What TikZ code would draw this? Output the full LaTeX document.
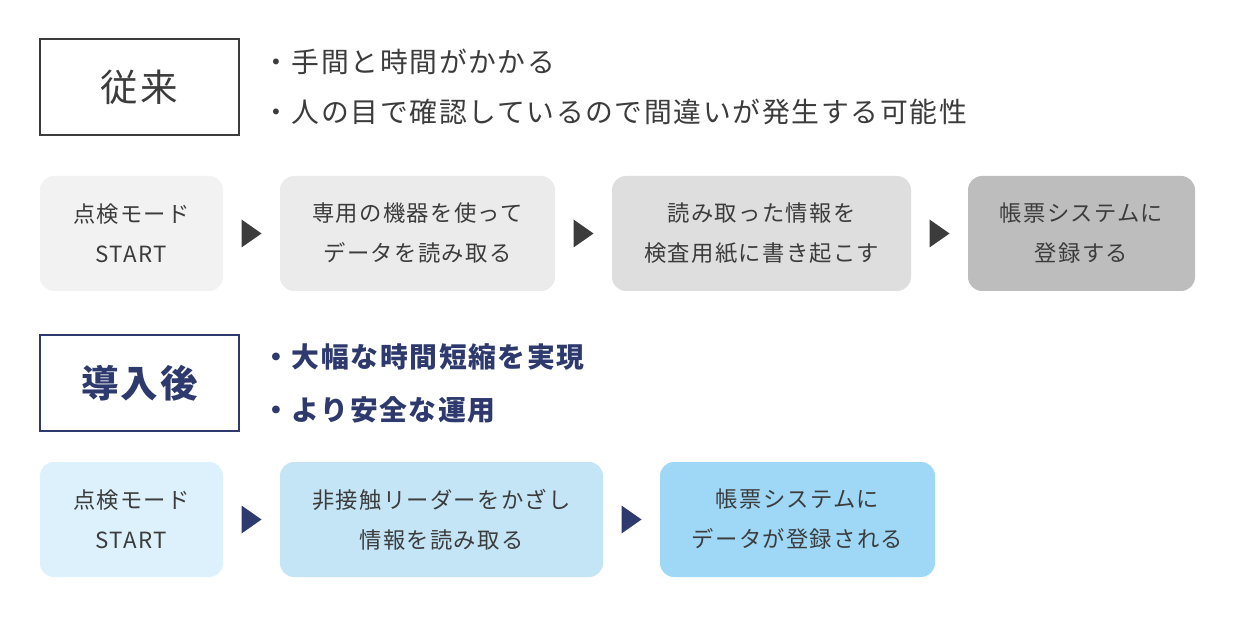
\documentclass[tikz,border=0pt]{standalone}
\usepackage{fontspec}
\usetikzlibrary{calc,positioning}
\newfontfamily\jpfont{Noto Sans CJK JP}[LetterSpace=6]
\definecolor{ink}{HTML}{3C3C3C}
\definecolor{navy}{HTML}{2E3A6E}
\definecolor{greyA}{HTML}{F2F2F2}
\definecolor{greyB}{HTML}{EBEBEB}
\definecolor{greyC}{HTML}{DEDEDE}
\definecolor{greyD}{HTML}{BDBDBD}
\definecolor{blueA}{HTML}{DCF1FC}
\definecolor{blueB}{HTML}{C4E5F6}
\definecolor{blueC}{HTML}{9ED8F6}
\newcommand{\CardFont}{\jpfont\fontsize{22.3}{40}\selectfont}
\newcommand{\NoteFont}{\jpfont\fontsize{27.8}{32}\selectfont}
\newcommand{\HeadFont}{\jpfont\fontsize{37.5}{40}\selectfont}
\tikzset{
  era header/.style={
    draw=#1, line width=2pt, text=#1, fill=white,
    minimum width=199, minimum height=96, inner sep=0pt, font=\HeadFont
  },
  flow card/.style={
    fill=#1, rounded corners=14pt, text=ink,
    minimum height=115, inner sep=0pt, align=center, font=\CardFont
  },
  note line/.style={
    anchor=west, inner sep=0pt, font=\NoteFont, text=#1
  },
}

\begin{document}
\begin{tikzpicture}[x=1pt,y=-1pt]
  \path[use as bounding box,fill=white] (0,0) rectangle (1240,620);

  % ===================== Before =====================
  \node[era header=ink] (h1) at (139.5,87) {従来};
  \node[note line=ink] (n1) at (262,62) {・手間と時間がかかる};
  \node[note line=ink] (n2) at (262,112) {・人の目で確認しているので間違いが発生する可能性};

  \def\Y{233.5}
  \node[flow card=greyA, minimum width=183] (c1) at (131.5,\Y) {点検モード\\START};
  \node[flow card=greyB, minimum width=275] (c2) at (417.5,\Y) {専用の機器を使って\\データを読み取る};
  \node[flow card=greyC, minimum width=299] (c3) at (761.5,\Y) {読み取った情報を\\検査用紙に書き起こす};
  \node[flow card=greyD, minimum width=227] (c4) at (1081.5,\Y) {帳票システムに\\登録する};

  \foreach \a/\b in {c1/c2,c2/c3,c3/c4}
    \fill[ink] ($(\a.east)!0.5!(\b.west)$) ++(-10,-14) -- ++(20,14) -- ++(-20,14) -- cycle;

  % ===================== After =====================
  \node[era header=navy, font=\HeadFont\bfseries] (h2) at (139.5,383) {導入後};
  \node[note line=navy, font=\NoteFont\bfseries] (n3) at (262,357) {・大幅な時間短縮を実現};
  \node[note line=navy, font=\NoteFont\bfseries] (n4) at (262,410) {・より安全な運用};

  \def\Y{519.5}
  \node[flow card=blueA, minimum width=183] (d1) at (131.5,\Y) {点検モード\\START};
  \node[flow card=blueB, minimum width=323] (d2) at (441.5,\Y) {非接触リーダーをかざし\\情報を読み取る};
  \node[flow card=blueC, minimum width=275] (d3) at (797.5,\Y) {帳票システムに\\データが登録される};

  \foreach \a/\b in {d1/d2,d2/d3}
    \fill[navy] ($(\a.east)!0.5!(\b.west)$) ++(-10,-14) -- ++(20,14) -- ++(-20,14) -- cycle;
\end{tikzpicture}
\end{document}
